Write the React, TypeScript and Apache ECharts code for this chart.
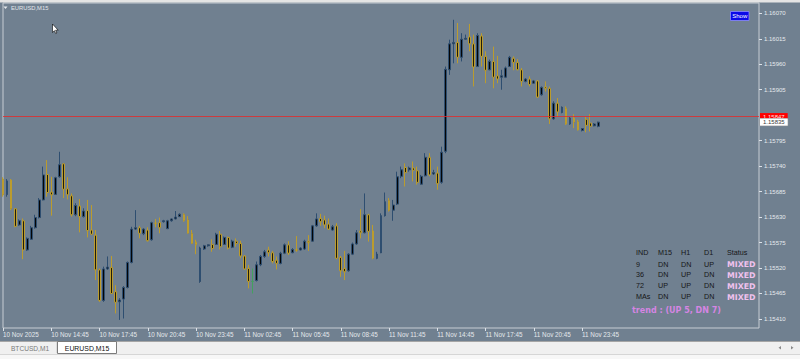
import React, { useEffect, useRef } from "react";
import * as echarts from "echarts";

// ---- data (EURUSD, M15, from 10 Nov 2025 11:45) ----
const opens = [
  1.15712, 1.15679, 1.1571, 1.15648, 1.15613, 1.15622, 1.15559, 1.15582, 1.15607, 1.15629,
  1.15667, 1.15722, 1.15684, 1.15679, 1.15717, 1.15745, 1.15691, 1.15676, 1.15635, 1.15654,
  1.15631, 1.15644, 1.15602, 1.15591, 1.15516, 1.1545, 1.15518, 1.15521, 1.15469, 1.15447,
  1.15453, 1.15478, 1.15532, 1.15604, 1.15607, 1.15594, 1.15602, 1.15581, 1.15617, 1.15618,
  1.1562, 1.15605, 1.15622, 1.15626, 1.15631, 1.15636, 1.15624, 1.15595, 1.15576, 1.15491,
  1.15561, 1.15568, 1.15571, 1.15571, 1.15593, 1.15571, 1.15586, 1.15565, 1.15578, 1.15573,
  1.15546, 1.15519, 1.15491, 1.15493, 1.15527, 1.15545, 1.15559, 1.15553, 1.15537, 1.1553,
  1.15552, 1.1557, 1.15553, 1.1556, 1.15559, 1.15561, 1.15578, 1.15578, 1.15611, 1.15627,
  1.15624, 1.15615, 1.15602, 1.15611, 1.15543, 1.15519, 1.15514, 1.1555, 1.15572, 1.156,
  1.15596, 1.15635, 1.156, 1.15541, 1.15553, 1.15633, 1.15666, 1.15645, 1.15658, 1.15718,
  1.15737, 1.15732, 1.15736, 1.1573, 1.15701, 1.15719, 1.15759, 1.15723, 1.15725, 1.15705,
  1.15772, 1.15948, 1.16004, 1.16007, 1.15975, 1.16014, 1.16019, 1.16004, 1.15955, 1.16021,
  1.15977, 1.15948, 1.15966, 1.15935, 1.15932, 1.15932, 1.15955, 1.15973, 1.15964, 1.15948,
  1.15923, 1.15928, 1.15919, 1.15924, 1.15894, 1.15911, 1.15908, 1.15842, 1.15876, 1.15856,
  1.15865, 1.15831, 1.15844, 1.15836, 1.15817, 1.15841, 1.15833, 1.15827, 1.15826,
];
const closes = [
  1.15678, 1.15708, 1.15648, 1.1561, 1.15622, 1.15559, 1.15584, 1.15607, 1.15629, 1.15667,
  1.15721, 1.15683, 1.15678, 1.15715, 1.15743, 1.1569, 1.15678, 1.15635, 1.15655, 1.15631,
  1.15643, 1.15601, 1.15593, 1.15516, 1.1545, 1.15518, 1.15522, 1.15465, 1.15446, 1.15451,
  1.15478, 1.15532, 1.15604, 1.15607, 1.15595, 1.15604, 1.15579, 1.15618, 1.15616, 1.15607,
  1.15622, 1.15622, 1.15626, 1.1563, 1.15636, 1.15622, 1.15595, 1.15573, 1.1557, 1.15563,
  1.15568, 1.1557, 1.15562, 1.15593, 1.15566, 1.15586, 1.15563, 1.15578, 1.15573, 1.15546,
  1.15518, 1.15491, 1.15491, 1.15527, 1.15545, 1.15555, 1.15553, 1.15534, 1.1553, 1.15552,
  1.1557, 1.15552, 1.1556, 1.15558, 1.15563, 1.15578, 1.15575, 1.15611, 1.15626, 1.1562,
  1.15613, 1.15604, 1.15609, 1.15541, 1.15514, 1.15512, 1.1555, 1.15572, 1.15596, 1.15596,
  1.15635, 1.15599, 1.15541, 1.1555, 1.15633, 1.15663, 1.15644, 1.15656, 1.15717, 1.15732,
  1.15726, 1.15736, 1.15731, 1.15705, 1.15718, 1.15759, 1.15721, 1.15726, 1.15702, 1.1577,
  1.15949, 1.16004, 1.16007, 1.15975, 1.16014, 1.16016, 1.16004, 1.15954, 1.16022, 1.15977,
  1.15947, 1.15966, 1.15932, 1.15928, 1.15935, 1.15952, 1.15975, 1.15964, 1.15948, 1.15923,
  1.15928, 1.15916, 1.15924, 1.15889, 1.1591, 1.15908, 1.15842, 1.15876, 1.15857, 1.15867,
  1.15831, 1.15844, 1.15835, 1.15818, 1.15821, 1.15828, 1.15826, 1.15831, 1.15835,
];
const lows = [
  1.15674, 1.15674, 1.15645, 1.15608, 1.15611, 1.15539, 1.15557, 1.15581, 1.15605, 1.15627,
  1.15666, 1.15674, 1.15633, 1.15678, 1.15715, 1.15671, 1.15668, 1.15631, 1.15632, 1.15597,
  1.15629, 1.15586, 1.15591, 1.15494, 1.15447, 1.15447, 1.15516, 1.15464, 1.15422, 1.15408,
  1.15411, 1.15476, 1.1553, 1.15602, 1.15584, 1.15591, 1.15577, 1.15579, 1.15608, 1.15595,
  1.15618, 1.15604, 1.1562, 1.15625, 1.1563, 1.1562, 1.15594, 1.15572, 1.1555, 1.15488,
  1.15559, 1.15566, 1.15555, 1.1557, 1.1556, 1.1557, 1.1556, 1.15563, 1.15566, 1.15541,
  1.15516, 1.15476, 1.15465, 1.15491, 1.15524, 1.15542, 1.15545, 1.1553, 1.15517, 1.15528,
  1.1555, 1.15548, 1.15552, 1.15555, 1.15558, 1.15559, 1.15557, 1.15577, 1.15609, 1.15611,
  1.15606, 1.15602, 1.15601, 1.15539, 1.15501, 1.15494, 1.15512, 1.15548, 1.1557, 1.15584,
  1.15595, 1.15577, 1.15539, 1.15539, 1.15552, 1.15631, 1.15642, 1.15622, 1.15656, 1.15714,
  1.15696, 1.15728, 1.15707, 1.157, 1.157, 1.15718, 1.15718, 1.15721, 1.15689, 1.15702,
  1.15768, 1.15937, 1.15962, 1.15962, 1.15966, 1.16013, 1.15988, 1.15912, 1.15954, 1.15955,
  1.15919, 1.15947, 1.15908, 1.15919, 1.15905, 1.1593, 1.15954, 1.15947, 1.15947, 1.15912,
  1.15921, 1.15912, 1.15918, 1.15887, 1.15892, 1.15901, 1.15831, 1.1584, 1.15846, 1.15854,
  1.15829, 1.15829, 1.15822, 1.15817, 1.15815, 1.15813, 1.15815, 1.15826, 1.15824,
];
const highs = [
  1.15716, 1.15712, 1.15712, 1.15649, 1.15625, 1.15627, 1.15586, 1.15611, 1.15635, 1.15671,
  1.15739, 1.15753, 1.15717, 1.15717, 1.15771, 1.15746, 1.15716, 1.15681, 1.1566, 1.15669,
  1.15649, 1.15667, 1.15656, 1.15602, 1.15519, 1.15523, 1.15545, 1.15546, 1.15483, 1.15455,
  1.15481, 1.15534, 1.15609, 1.15645, 1.15611, 1.15606, 1.15608, 1.1562, 1.15626, 1.15629,
  1.15624, 1.15624, 1.15627, 1.15643, 1.15638, 1.15638, 1.15632, 1.15602, 1.15581, 1.15566,
  1.1557, 1.15571, 1.15582, 1.15596, 1.156, 1.15588, 1.15588, 1.15581, 1.15584, 1.15579,
  1.15548, 1.15527, 1.15519, 1.15534, 1.15548, 1.15559, 1.15566, 1.15557, 1.15545, 1.15555,
  1.15573, 1.15578, 1.15563, 1.15589, 1.15565, 1.15581, 1.15591, 1.15613, 1.15638, 1.15637,
  1.15633, 1.15627, 1.15613, 1.15617, 1.15546, 1.15557, 1.15552, 1.15575, 1.15602, 1.15647,
  1.15681, 1.15637, 1.15613, 1.15555, 1.15638, 1.15683, 1.15671, 1.15667, 1.15728, 1.15739,
  1.15746, 1.15739, 1.1575, 1.15739, 1.15721, 1.15768, 1.15768, 1.15732, 1.15739, 1.15782,
  1.15955, 1.16013, 1.16056, 1.16049, 1.16027, 1.16024, 1.16047, 1.16024, 1.16027, 1.16027,
  1.15988, 1.1597, 1.15998, 1.15978, 1.15948, 1.15955, 1.15978, 1.15977, 1.15971, 1.15952,
  1.1593, 1.15934, 1.15926, 1.15926, 1.15912, 1.15923, 1.15912, 1.1588, 1.15887, 1.15869,
  1.15869, 1.15846, 1.15852, 1.1584, 1.15822, 1.15846, 1.15852, 1.15833, 1.15836,
];

const xTickLabels = [
  "10 Nov 2025", "10 Nov 14:45", "10 Nov 17:45", "10 Nov 20:45", "10 Nov 23:45",
  "11 Nov 02:45", "11 Nov 05:45", "11 Nov 08:45", "11 Nov 11:45", "11 Nov 14:45",
  "11 Nov 17:45", "11 Nov 20:45", "11 Nov 23:45",
];
const yTickValues = [
  1.1607, 1.16015, 1.1596, 1.15905, 1.15795, 1.1574, 1.15685, 1.1563, 1.15575,
  1.1552, 1.15465, 1.1541,
];
const askPrice = 1.15847;
const bidPrice = 1.15835;

const tableHeader = ["IND", "M15", "H1", "D1", "Status"];
const tableRows = [
  ["9", "DN", "DN", "UP", "MIXED"],
  ["36", "DN", "UP", "DN", "MIXED"],
  ["72", "UP", "UP", "DN", "MIXED"],
  ["MAs", "DN", "UP", "DN", "MIXED"],
];
const trendText = "trend : (UP 5, DN 7)";
const tabs = ["BTCUSD,M1", "EURUSD,M15"];
const chartTitle = "EURUSD,M15";

// ---- axes setup ----
const SLOTS = 189;
const BARS_PER_LABEL = 12;
const Y_MIN = 1.153905;
const Y_MAX = 1.160922;
const MON = ["Jan", "Feb", "Mar", "Apr", "May", "Jun", "Jul", "Aug", "Sep", "Oct", "Nov", "Dec"];
const categories: string[] = [];
{
  const start = Date.UTC(2025, 10, 10, 11, 45);
  for (let i = 0; i < SLOTS; i++) {
    const d = new Date(start + i * 15 * 60000);
    const hh = String(d.getUTCHours()).padStart(2, "0");
    const mm = String(d.getUTCMinutes()).padStart(2, "0");
    categories.push(`${d.getUTCDate()} ${MON[d.getUTCMonth()]} ${hh}:${mm}`);
  }
}
const ohlc = opens.map((o, i) => [o, closes[i], lows[i], highs[i]]);

const isLabelIdx = (i: number) => i % BARS_PER_LABEL === 0 && i / BARS_PER_LABEL < xTickLabels.length;

const txt = (text: string, x: number, y: number, fill: string, font: string, align = "left") => ({
  type: "text",
  x,
  y,
  z: 100,
  silent: true,
  style: { text, fill, font, align, verticalAlign: "middle" },
});

function buildGraphic() {
  const g: any[] = [];
  g.push({ type: "rect", z: 90, silent: true, shape: { x: 0, y: 0, width: 800, height: 2.5 }, style: { fill: "#e4e4e4" } });
  g.push({ type: "polygon", z: 100, silent: true, shape: { points: [[3.5, 6.5], [7.5, 6.5], [5.5, 9]] }, style: { fill: "#e6eaee" } });
  g.push(txt(chartTitle, 11, 8.3, "#e2e6ea", "5.8px 'Liberation Sans'"));
  g.push({
    type: "polygon", z: 100, silent: true,
    shape: { points: [[52.5, 24], [52.5, 32.5], [54.4, 30.7], [55.7, 33.5], [56.9, 33], [55.6, 30.2], [58.2, 30.2]] },
    style: { fill: "#ffffff", stroke: "#000000", lineWidth: 0.6 },
  });
  g.push({ type: "rect", z: 100, silent: true, shape: { x: 730.5, y: 11.5, width: 18.5, height: 9 }, style: { fill: "#0a0ae8", stroke: "#8c8cff", lineWidth: 0.8 } });
  g.push(txt("Show", 739.7, 16.2, "#ffffff", "6px 'Liberation Sans'", "center"));
  const colX = [636, 658, 681, 704, 727];
  const rowY = [252.3, 264, 274.8, 285.8, 296.3];
  tableHeader.forEach((h, c) => g.push(txt(h, colX[c], rowY[0], "#161616", "7.2px 'Liberation Sans'")));
  tableRows.forEach((row, r) => {
    row.forEach((cell, c) => {
      if (c === 4) g.push(txt(cell, colX[c], rowY[r + 1] + 0.7, "#f0c2ee", "bold 7.8px 'DejaVu Sans'"));
      else g.push(txt(cell, colX[c], rowY[r + 1], "#161616", "7.2px 'Liberation Sans'"));
    });
  });
  g.push(txt(trendText, 632, 310.2, "#d585e3", "bold 8px 'DejaVu Sans'"));
  g.push({ type: "rect", z: 90, silent: true, shape: { x: 0, y: 341, width: 800, height: 18 }, style: { fill: "#f0f0f0" } });
  g.push({ type: "line", z: 91, silent: true, shape: { x1: 0, y1: 341.5, x2: 800, y2: 341.5 }, style: { stroke: "#a6a6a6", lineWidth: 1 } });
  g.push({ type: "line", z: 91, silent: true, shape: { x1: 0, y1: 354.5, x2: 800, y2: 354.5 }, style: { stroke: "#d6d6d6", lineWidth: 1 } });
  g.push({ type: "rect", z: 91, silent: true, shape: { x: 0, y: 355, width: 800, height: 4 }, style: { fill: "#f7f7f7" } });
  g.push({ type: "line", z: 91, silent: true, shape: { x1: 57, y1: 342, x2: 57, y2: 353 }, style: { stroke: "#c8c8c8", lineWidth: 1 } });
  g.push({ type: "rect", z: 92, silent: true, shape: { x: 57.5, y: 341.5, width: 59, height: 12 }, style: { fill: "#ffffff", stroke: "#7c7c7c", lineWidth: 1 } });
  g.push(txt(tabs[0], 30, 348.3, "#7a7a7a", "6.6px 'Liberation Sans'", "center"));
  g.push(txt(tabs[1], 87, 348.3, "#111111", "6.9px 'Liberation Sans'", "center"));
  g.push({ type: "polygon", z: 100, silent: true, shape: { points: [[778.5, 347.7], [781, 346], [781, 349.4]] }, style: { fill: "#8a8a8a" } });
  g.push({ type: "polygon", z: 100, silent: true, shape: { points: [[793.5, 347.7], [791, 346], [791, 349.4]] }, style: { fill: "#8a8a8a" } });
  return g;
}

const priceLabel = (bg: string, fg: string, border?: string) => ({
  show: true,
  position: "end",
  distance: 1,
  backgroundColor: bg,
  color: fg,
  fontSize: 6,
  fontFamily: "Liberation Sans",
  padding: [1, 3, 0, 3],
  borderColor: border || bg,
  borderWidth: border ? 0.5 : 0,
});

const option: any = {
  animation: false,
  backgroundColor: "#708090",
  grid: { left: 2, top: 3, right: 41, bottom: 31, show: true, borderColor: "#c6ccd3", borderWidth: 1, backgroundColor: "transparent" },
  xAxis: {
    type: "category",
    data: categories,
    boundaryGap: false,
    axisLine: { show: false },
    splitLine: { show: false },
    axisTick: { show: true, length: 3, interval: (i: number) => isLabelIdx(i), lineStyle: { color: "#dde2e8" } },
    axisLabel: {
      interval: (i: number) => isLabelIdx(i),
      formatter: (_v: string, i: number) => (isLabelIdx(i) ? xTickLabels[i / BARS_PER_LABEL] : ""),
      align: "left",
      color: "#e4e8ec",
      fontSize: 6.3,
      fontFamily: "Liberation Sans",
      margin: 3.5,
    },
  },
  yAxis: {
    type: "value",
    position: "right",
    min: Y_MIN,
    max: Y_MAX,
    axisLine: { show: false },
    splitLine: { show: false },
    axisTick: { show: true, length: 3, customValues: yTickValues, lineStyle: { color: "#dde2e8" } },
    axisLabel: {
      customValues: yTickValues,
      formatter: (v: number) => v.toFixed(5),
      color: "#e6eaee",
      fontSize: 6,
      fontFamily: "Liberation Sans",
      margin: 5,
    },
  },
  series: [
    {
      type: "candlestick",
      data: ohlc,
      barWidth: 2.4,
      clip: true,
      itemStyle: {
        color: "#050505",
        color0: "#1f1d0e",
        borderColor: "#2e4e70",
        borderColor0: "#bb9c2e",
        borderColorDoji: "#43a05f",
        borderWidth: 1,
      },
    },
    {
      type: "line",
      name: "ask",
      data: [],
      silent: true,
      markLine: {
        silent: true,
        precision: 5,
        symbol: ["none", "none"],
        animation: false,
        data: [
          {
            yAxis: askPrice,
            lineStyle: { color: "#e42a2a", width: 0.8, type: "solid", opacity: 1 },
            label: { ...priceLabel("#ff0000", "#ffe0e0"), formatter: askPrice.toFixed(5) },
          },
        ],
      },
    },
    {
      type: "line",
      name: "bid",
      data: [],
      silent: true,
      markLine: {
        silent: true,
        precision: 5,
        symbol: ["none", "none"],
        animation: false,
        data: [
          {
            yAxis: bidPrice,
            lineStyle: { color: "rgba(0,0,0,0)", width: 1, type: "solid" },
            label: { ...priceLabel("#ffffff", "#3a3a3a", "#9a9a9a"), formatter: bidPrice.toFixed(5) },
          },
        ],
      },
    },
  ],
  graphic: buildGraphic(),
};

export default function App() {
  const ref = useRef<HTMLDivElement>(null);
  useEffect(() => {
    const chart = echarts.init(ref.current!, null, { renderer: "svg", width: 800, height: 359 });
    chart.setOption(option);
    return () => chart.dispose();
  }, []);
  return <div ref={ref} style={{ position: "fixed", left: 0, top: 0, width: 800, height: 359 }} />;
}
